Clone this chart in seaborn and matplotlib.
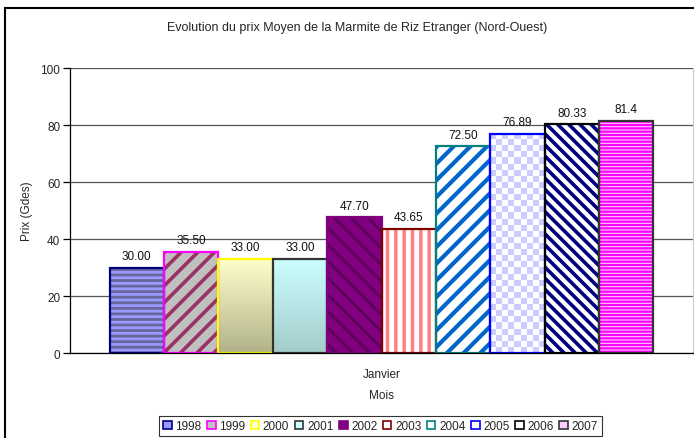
import numpy as np
import pandas as pd
import matplotlib
matplotlib.use("Agg")
import matplotlib.pyplot as plt
import seaborn as sns
from matplotlib.patches import Rectangle, Patch
from matplotlib.colors import LinearSegmentedColormap, ListedColormap

# Prix moyen de la marmite de riz etranger, mois de janvier
annees = ["1998", "1999", "2000", "2001", "2002", "2003", "2004", "2005", "2006", "2007"]
prix = [30.00, 35.50, 33.00, 33.00, 47.70, 43.65, 72.50, 76.89, 80.33, 81.40]
etiquettes = ["30.00", "35.50", "33.00", "33.00", "47.70", "43.65", "72.50", "76.89", "80.33", "81.4"]
mois = ["Janvier"] * len(annees)

df = pd.DataFrame({"Mois": mois, "Annee": annees, "Prix": prix})

# style de chaque barre: fond, hachure, couleur hachure, bordure, epaisseur hachure
styles = {
    "1998": dict(face="#9999ff", hatch="---", hc="#66669a", edge="#000080", hlw=2.0),
    "1999": dict(face="#c0c0c0", hatch="//", hc="#993366", edge="#ff00ff", hlw=2.6),
    "2000": dict(grad=("#ffffcc", "#b2b28a"), edge="#ffff00"),
    "2001": dict(grad=("#ccffff", "#a3cccc"), edge="#333333"),
    "2002": dict(face="#800080", hatch="\\\\", hc="#5c005c", edge="#800080", hlw=2.0),
    "2003": dict(face="#ffffff", hatch="||", hc="#ff8080", edge="#800000", hlw=2.5),
    "2004": dict(face="#ffffff", hatch="//", hc="#0066cc", edge="#008080", hlw=3.0),
    "2005": dict(checker=("#ffffff", "#ccccff"), edge="#0000ff"),
    "2006": dict(face="#ffffff", hatch="\\\\\\", hc="#000080", edge="#000000", hlw=2.6),
    "2007": dict(face="#ffccff", hatch="-----", hc="#ff00ff", edge="#333333", hlw=1.6),
}

sns.set_style("white")
plt.rcParams["font.family"] = ["Liberation Sans", "DejaVu Sans"]
plt.rcParams["hatch.linewidth"] = 2.5

fig = plt.figure(figsize=(6.94, 4.39), dpi=100)
ax = fig.add_axes([0.1009, 0.1936, 0.8977, 0.6492])

sns.barplot(data=df, x="Mois", y="Prix", hue="Annee", hue_order=annees,
            width=0.873, saturation=1, legend=False, ax=ax)

for cont, an in zip(ax.containers, annees):
    st = styles[an]
    for p in cont.patches:
        x0, y0, w, h = p.get_x(), p.get_y(), p.get_width(), p.get_height()
        if "grad" in st:
            p.set_facecolor("none")
            p.set_edgecolor("none")
            cmap = LinearSegmentedColormap.from_list("g", [st["grad"][1], st["grad"][0]])
            img = ax.imshow(np.linspace(0, 1, 100).reshape(-1, 1), extent=[x0, x0 + w, y0, y0 + h],
                            origin="lower", aspect="auto", cmap=cmap, zorder=p.get_zorder())
            img.set_clip_path(p)
        elif "checker" in st:
            p.set_facecolor("none")
            p.set_edgecolor("none")
            ny, nx = int(h * 2.85 / 6), 9
            tex = (np.indices((ny, nx)).sum(axis=0) % 2).astype(float)
            img = ax.imshow(tex, extent=[x0, x0 + w, y0, y0 + h], origin="lower",
                            aspect="auto", cmap=ListedColormap(list(st["checker"])),
                            interpolation="nearest", zorder=p.get_zorder())
            img.set_clip_path(p)
        else:
            p.set_facecolor(st["face"])
            p.set_hatch(st["hatch"])
            p.set_edgecolor(st["hc"])
            p.set_linewidth(0)
            if hasattr(p, "set_hatch_linewidth"):
                p.set_hatch_linewidth(st["hlw"])
        ax.add_patch(Rectangle((x0, y0), w, h, fill=False, edgecolor=st["edge"],
                               lw=1.6, zorder=p.get_zorder() + 0.5))
    ax.bar_label(cont, labels=[etiquettes[annees.index(an)]], padding=4, fontsize=8.5, color="#111111")

ax.set_xlim(-0.5, 0.5)
ax.set_ylim(0, 100)
ax.set_yticks([0, 20, 40, 60, 80, 100])
ax.yaxis.grid(True, color="#555555", lw=0.9)
ax.set_axisbelow(True)
ax.tick_params(axis="y", left=True, length=5, width=0.9, labelsize=8.5, pad=2, color="black")
ax.tick_params(axis="x", bottom=False, labelsize=8.5, pad=7)
ax.spines["top"].set_visible(False)
ax.spines["right"].set_color("#cccccc")
ax.spines["left"].set_color("black")
ax.spines["bottom"].set_color("black")
ax.spines["left"].set_linewidth(0.9)
ax.spines["bottom"].set_linewidth(0.9)
ax.set_xlabel("Mois", fontsize=8.5, labelpad=7)
ax.set_ylabel("Prix (Gdes)", fontsize=8.5, labelpad=5)

fig.text(0.514, 1 - 28 / 439, "Evolution du prix Moyen de la Marmite de Riz Etranger (Nord-Ouest)",
         ha="center", va="center", fontsize=9)

# cadre exterieur du graphique
fig.patches.append(Rectangle((5 / 694, -0.02), 1.05, 1.02 - 9 / 439, transform=fig.transFigure,
                             fill=False, edgecolor="black", lw=1.5, zorder=10))

handles = []
for an in annees:
    st = styles[an]
    if "grad" in st:
        fc = st["grad"][0]
    elif "checker" in st:
        fc = st["checker"][0]
    else:
        fc = st["face"]
    handles.append(Patch(facecolor=fc, edgecolor=st["edge"], lw=1.2))
leg = fig.legend(handles, annees, loc="center", bbox_to_anchor=(380.5 / 694, 1 - 427 / 439),
                 ncol=10, fontsize=8.5, frameon=True, fancybox=False, edgecolor="black",
                 handlelength=0.7, handleheight=0.7, handletextpad=0.3, columnspacing=0.5,
                 borderpad=0.35, borderaxespad=0)
leg.get_frame().set_linewidth(0.8)

fig.savefig("out.png", dpi=100)
